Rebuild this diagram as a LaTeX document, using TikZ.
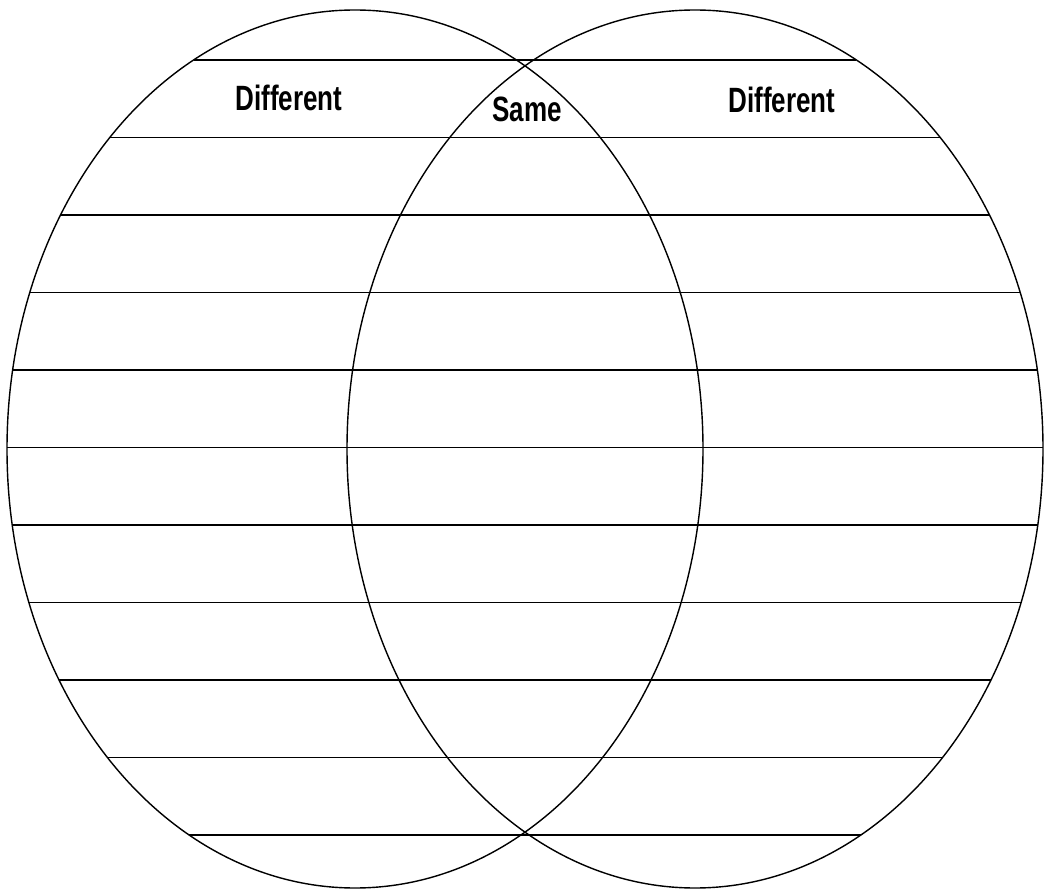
\documentclass[tikz,border=0pt]{standalone}
\usepackage{fontspec}
\setmainfont{Liberation Sans}
\newfontfamily\narrowfont[FakeStretch=0.74]{Liberation Sans}
\usepackage{tikz}

\begin{document}
\begin{tikzpicture}[
    ring/.style={draw, line width=0.8pt},
    rule/.style={line width=1pt},
    heading/.style={font=\narrowfont\fontsize{20}{24}\selectfont\bfseries,
                    inner sep=0pt, anchor=base}
]
\useasboundingbox[fill=white] (0,0) rectangle (20.92,17.8);
% the two sets
\draw[ring] (7.10,8.82) ellipse [x radius=6.96, y radius=8.78];
\draw[ring] (13.90,8.82) ellipse [x radius=6.96, y radius=8.78];
% writing lines, from the left rim to the right rim
\foreach \k in {0,...,10} {
    \pgfmathsetmacro{\yy}{16.6-1.55*\k}
    \pgfmathsetmacro{\hw}{6.96*sqrt(1-(\yy-8.82)*(\yy-8.82)/(8.78*8.78))}
    \draw[rule] ({7.10-\hw},\yy) -- ({13.90+\hw},\yy);
}
\node[heading] (leftdiff) at (5.78,15.58) {Different};
\node[heading] (same) at (10.54,15.36) {Same};
\node[heading] (rightdiff) at (15.64,15.54) {Different};
\end{tikzpicture}
\end{document}
